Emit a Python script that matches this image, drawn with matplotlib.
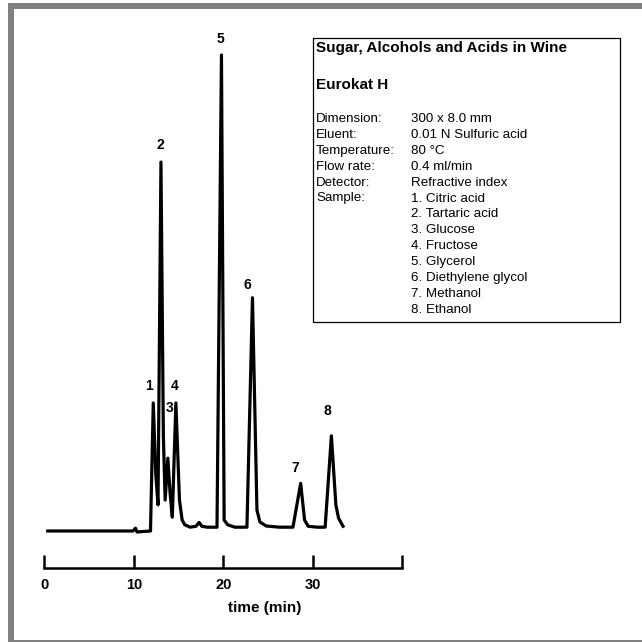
import numpy as np
import matplotlib as mpl
mpl.use('agg')
import matplotlib.pyplot as plt
from matplotlib.patches import Rectangle

plt.rcParams['font.family'] = ['Liberation Sans', 'DejaVu Sans']

# chromatogram trace: time (min) and signal (% of peak 5)
time_min = [0.36, 9.9, 10.05, 10.18, 10.35, 11.86, 11.95, 12.17, 12.45, 12.7,
            13.03, 13.3, 13.5, 13.8, 14.05, 14.3, 14.7, 15.1, 15.4, 15.7,
            16.3, 16.95, 17.3, 17.6, 18.2, 19.3, 19.8, 20.1, 20.5, 21.3,
            22.4, 22.65, 23.27, 23.77, 24.1, 24.8, 26.3, 27.8, 28.66, 29.1,
            29.5, 30.5, 31.4, 32.1, 32.6, 32.9, 33.4]
signal = [0.0, 0.0, 0.3, 0.6, -0.2, 0.0, 8.0, 26.9, 12.0, 5.5,
          77.5, 20.0, 6.5, 15.3, 8.0, 2.9, 26.9, 6.5, 2.3, 1.3,
          0.8, 1.0, 1.8, 1.0, 0.8, 0.8, 100.0, 2.3, 1.3, 0.8,
          0.8, 0.8, 49.0, 4.4, 1.9, 1.05, 0.8, 0.8, 10.0, 2.3,
          1.0, 0.8, 0.8, 20.0, 5.5, 2.7, 1.0]

# peak numbers and where their labels sit
peak_names = ['1', '2', '3', '4', '5', '6', '7', '8']
label_t = [11.7, 13.0, 14.04, 14.6, 19.7, 22.65, 28.1, 31.7]
label_s = [30.5, 81.0, 25.8, 30.5, 103.4, 51.7, 13.2, 25.2]

xticks = [0, 10, 20, 30, 40]
xtick_labels = ['0', '10', '20', '30', '']

box_title = 'Sugar, Alcohols and Acids in Wine'
box_column = 'Eurokat H'
cond_keys = ['Dimension:', 'Eluent:', 'Temperature:', 'Flow rate:', 'Detector:', 'Sample:']
cond_vals = ['300 x 8.0 mm', '0.01 N Sulfuric acid', '80 °C', '0.4 ml/min',
             'Refractive index']
samples = ['Citric acid', 'Tartaric acid', 'Glucose', 'Fructose', 'Glycerol',
           'Diethylene glycol', 'Methanol', 'Ethanol']

W = 642.0


def px(x, y):
    # pixel position -> figure fraction
    return x / W, 1 - y / W


fig = plt.figure(figsize=(6.42, 6.42), dpi=100)

# grey frame round the picture
grey = '#808080'
for (x0, y0, x1, y1) in [(8, 3, 642, 8.5), (8, 3, 14, 642), (8, 639.5, 642, 642)]:
    fig.add_artist(Rectangle(px(x0, y1), (x1 - x0) / W, (y1 - y0) / W,
                             transform=fig.transFigure, color=grey, lw=0))

# axes: x 0..40 spans px 44.5..402, baseline at px 531, axis line at px 568
ax_top, ax_bot = 20, 568
ax = fig.add_axes([44.5 / W, 1 - ax_bot / W, (402 - 44.5) / W, (ax_bot - ax_top) / W])
ax.set_xlim(0, 40)
ax.set_ylim((531 - ax_bot) / 4.76, (531 - ax_top) / 4.76)

ax.plot(time_min, signal, color='black', lw=2.3, solid_joinstyle='round')

for name, t, s in zip(peak_names, label_t, label_s):
    ax.text(t, s, name, ha='center', va='center', fontsize=10, fontweight='bold')

for side in ['left', 'top', 'right']:
    ax.spines[side].set_visible(False)
ax.spines['bottom'].set_linewidth(1.8)
ax.set_yticks([])
ax.set_xticks(xticks)
ax.set_xticklabels(xtick_labels, fontsize=10.5, fontweight='bold')
ax.tick_params(axis='x', direction='in', length=9.5, width=1.8, pad=7)
ax.set_xlabel('time (min)', fontsize=11, fontweight='bold')
ax.xaxis.set_label_coords((265 - 44.5) / (402 - 44.5), -(608 - 568) / (ax_bot - ax_top))
ax.xaxis.label.set_va('center')
ax.patch.set_visible(False)

# information box
fig.add_artist(Rectangle(px(313, 322), (620 - 313) / W, (322 - 38) / W,
                         transform=fig.transFigure, fill=False, ec='black', lw=0.9))
fig.text(*px(316, 48), box_title, fontsize=11, fontweight='bold', va='center')
fig.text(*px(316, 85), box_column, fontsize=11, fontweight='bold', va='center')

right_col = cond_vals + ['%d. %s' % (i + 1, s) for i, s in enumerate(samples)]
row0, step = 119, 15.9
for i, key in enumerate(cond_keys):
    fig.text(*px(316, row0 + i * step), key, fontsize=9.6, va='center')
for i, val in enumerate(right_col):
    fig.text(*px(411, row0 + i * step), val, fontsize=9.6, va='center')

plt.savefig('out.png', dpi=100)
plt.close()
